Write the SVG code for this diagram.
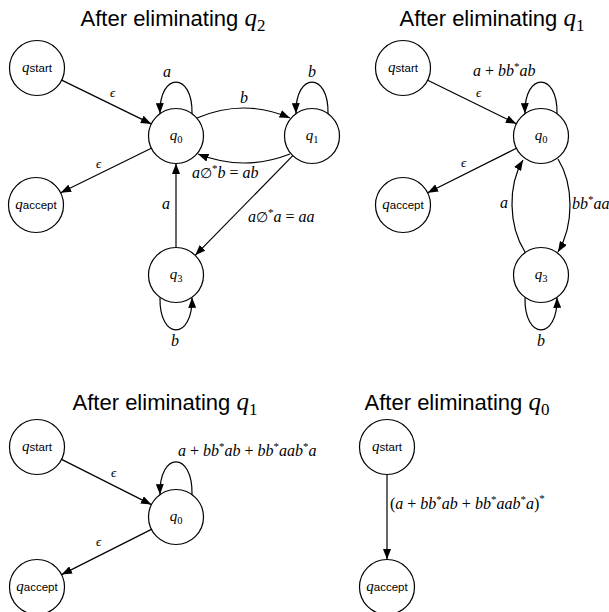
<svg xmlns="http://www.w3.org/2000/svg" width="609" height="612" viewBox="0 0 609 612">
<style>
.title{font-family:"Liberation Sans",Arial,sans-serif;font-size:22px;fill:#000}
.tq{font-family:"Liberation Serif","DejaVu Serif",serif;font-style:italic;font-size:25px}
.ts{font-family:"Liberation Serif","DejaVu Serif",serif;font-style:normal;font-size:17px}
.node circle{fill:#fff;stroke:#000;stroke-width:1.2}
.nl{font-family:"Liberation Serif","DejaVu Serif",serif;font-style:italic;font-size:15px;text-anchor:middle}
.ns{font-family:"Liberation Sans",Arial,sans-serif;font-style:normal;font-size:11.5px}
.nd{font-family:"Liberation Serif","DejaVu Serif",serif;font-style:normal;font-size:10.5px}
.edges path{fill:none;stroke:#000;stroke-width:1.2;marker-end:url(#ah)}
.m{font-family:"Liberation Serif","DejaVu Serif",serif;font-style:italic;font-size:16px;fill:#000}
.eps{font-size:13px}
.mc{text-anchor:middle}
.up{font-style:normal}
.es{font-style:normal;font-size:14px}
.sup{font-style:normal;font-size:11px}
</style>
<defs>
<marker id="ah" markerUnits="userSpaceOnUse" markerWidth="11" markerHeight="8" refX="10.5" refY="4" orient="auto">
<path d="M0,0 L10.5,4 L0,8 z" fill="#000"/>
</marker>
</defs>

<!-- Titles -->
<text class="title" x="173" y="26" text-anchor="middle">After eliminating <tspan class="tq">q</tspan><tspan class="ts" dy="5">2</tspan></text>
<text class="title" x="492" y="26" text-anchor="middle">After eliminating <tspan class="tq">q</tspan><tspan class="ts" dy="5">1</tspan></text>
<text class="title" x="165" y="410" text-anchor="middle">After eliminating <tspan class="tq">q</tspan><tspan class="ts" dy="5">1</tspan></text>
<text class="title" x="457" y="410" text-anchor="middle">After eliminating <tspan class="tq">q</tspan><tspan class="ts" dy="5">0</tspan></text>

<!-- Connectors -->
<g class="edges" id="edges">
<path d="M61.7,80.1 L151.3,123.9"/>
<path d="M151.3,148.2 L60.7,192.8"/>
<path d="M197,118 Q244,98 290,118"/>
<path d="M290,154 Q244,172 198,154"/>
<path d="M292.8,155.7 L195.2,255.3"/>
<path d="M176,247.5 L176,163.5"/>
<path d="M192,113.6 C193,71.5 159,71.5 160,113.6"/>
<path d="M328,113.6 C329,71.5 295,71.5 296,113.6"/>
<path d="M160,297.4 C159,340.7 193,340.7 192,297.4"/>
<path d="M427.7,80.2 L516.3,123.8"/>
<path d="M516.4,148.3 L427.6,192.7"/>
<path d="M557,113.6 C558,71.5 524,71.5 525,113.6"/>
<path d="M525,252 C508,225 508,185 523,160"/>
<path d="M558,159 C574,185 574,225 558,252"/>
<path d="M525,297.4 C524,340.7 558,340.7 557,297.4"/>
<path d="M61.6,459.4 L151.4,504.6"/>
<path d="M151.4,529.4 L61.6,574.6"/>
<path d="M192,494.6 C193,451 159,451 160,494.6"/>
<path d="M387,474.5 L387,559.5"/>
</g>

<!-- Edge labels -->
<g id="edge-labels">
<text class="m eps" x="110" y="97">ϵ</text>
<text class="m eps" x="96" y="168">ϵ</text>
<text class="m mc" x="167" y="77">a</text>
<text class="m mc" x="312" y="77">b</text>
<text class="m mc" x="244" y="103">b</text>
<text class="m" x="192" y="178">a<tspan class="es">∅</tspan><tspan class="sup" dy="-6">*</tspan><tspan dy="6">b </tspan><tspan class="up">=</tspan> ab</text>
<text class="m mc" x="166" y="209">a</text>
<text class="m" x="248" y="222">a<tspan class="es">∅</tspan><tspan class="sup" dy="-6">*</tspan><tspan dy="6">a </tspan><tspan class="up">=</tspan> aa</text>
<text class="m mc" x="175" y="346">b</text>

<text class="m eps" x="476" y="97">ϵ</text>
<text class="m eps" x="461" y="167">ϵ</text>
<text class="m" x="473" y="76">a <tspan class="up">+</tspan> bb<tspan class="sup" dy="-6">*</tspan><tspan dy="6">ab</tspan></text>
<text class="m mc" x="504" y="208">a</text>
<text class="m" x="572" y="209">bb<tspan class="sup" dy="-6">*</tspan><tspan dy="6">aa</tspan></text>
<text class="m mc" x="541" y="346">b</text>

<text class="m eps" x="111" y="477">ϵ</text>
<text class="m eps" x="96" y="546">ϵ</text>
<text class="m" x="178" y="456">a <tspan class="up">+</tspan> bb<tspan class="sup" dy="-6">*</tspan><tspan dy="6">ab </tspan><tspan class="up">+</tspan> bb<tspan class="sup" dy="-6">*</tspan><tspan dy="6">aab</tspan><tspan class="sup" dy="-6">*</tspan><tspan dy="6">a</tspan></text>

<text class="m" x="390" y="509"><tspan class="up">(</tspan>a <tspan class="up">+</tspan> bb<tspan class="sup" dy="-6">*</tspan><tspan dy="6">ab </tspan><tspan class="up">+</tspan> bb<tspan class="sup" dy="-6">*</tspan><tspan dy="6">aab</tspan><tspan class="sup" dy="-6">*</tspan><tspan dy="6">a</tspan><tspan class="up">)</tspan><tspan class="sup" dy="-7">*</tspan></text>
</g>

<!-- Nodes panel 1 -->
<g class="node" id="p1-qstart"><circle cx="37" cy="68" r="27.5"/><text class="nl" x="37" y="72">q<tspan class="ns">start</tspan></text></g>
<g class="node" id="p1-q0"><circle cx="176" cy="136" r="27.5"/><text class="nl" x="176" y="140">q<tspan class="nd" dy="2.5">0</tspan></text></g>
<g class="node" id="p1-q1"><circle cx="312" cy="136" r="27.5"/><text class="nl" x="312" y="140">q<tspan class="nd" dy="2.5">1</tspan></text></g>
<g class="node" id="p1-qaccept"><circle cx="36" cy="205" r="27.5"/><text class="nl" x="36" y="209">q<tspan class="ns">accept</tspan></text></g>
<g class="node" id="p1-q3"><circle cx="176" cy="275" r="27.5"/><text class="nl" x="176" y="279">q<tspan class="nd" dy="2.5">3</tspan></text></g>

<!-- Nodes panel 2 -->
<g class="node" id="p2-qstart"><circle cx="403" cy="68" r="27.5"/><text class="nl" x="403" y="72">q<tspan class="ns">start</tspan></text></g>
<g class="node" id="p2-q0"><circle cx="541" cy="136" r="27.5"/><text class="nl" x="541" y="140">q<tspan class="nd" dy="2.5">0</tspan></text></g>
<g class="node" id="p2-qaccept"><circle cx="403" cy="205" r="27.5"/><text class="nl" x="403" y="209">q<tspan class="ns">accept</tspan></text></g>
<g class="node" id="p2-q3"><circle cx="541" cy="275" r="27.5"/><text class="nl" x="541" y="279">q<tspan class="nd" dy="2.5">3</tspan></text></g>

<!-- Nodes panel 3 -->
<g class="node" id="p3-qstart"><circle cx="37" cy="447" r="27.5"/><text class="nl" x="37" y="451">q<tspan class="ns">start</tspan></text></g>
<g class="node" id="p3-q0"><circle cx="176" cy="517" r="27.5"/><text class="nl" x="176" y="521">q<tspan class="nd" dy="2.5">0</tspan></text></g>
<g class="node" id="p3-qaccept"><circle cx="37" cy="587" r="27.5"/><text class="nl" x="37" y="591">q<tspan class="ns">accept</tspan></text></g>

<!-- Nodes panel 4 -->
<g class="node" id="p4-qstart"><circle cx="387" cy="447" r="27.5"/><text class="nl" x="387" y="451">q<tspan class="ns">start</tspan></text></g>
<g class="node" id="p4-qaccept"><circle cx="387" cy="587" r="27.5"/><text class="nl" x="387" y="591">q<tspan class="ns">accept</tspan></text></g>
</svg>
